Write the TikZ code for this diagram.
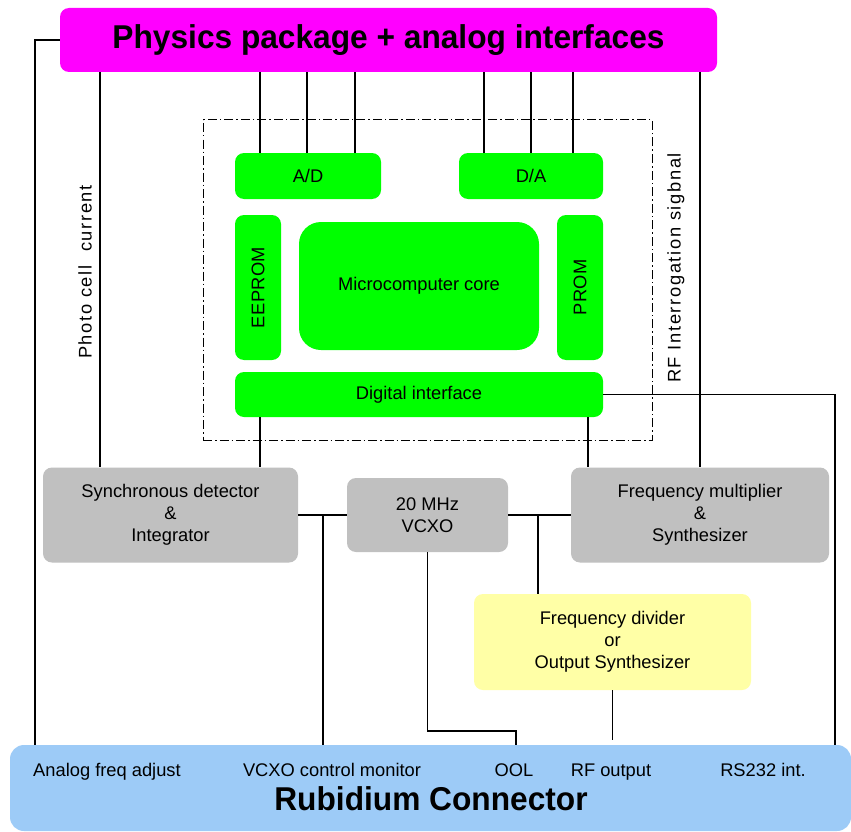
\documentclass[tikz,border=0pt]{standalone}
\usepackage{fontspec}
\setmainfont{Liberation Sans}
\usetikzlibrary{calc}
\definecolor{magbox}{HTML}{FF00FF}
\definecolor{grnbox}{HTML}{00FF00}
\definecolor{graybox}{HTML}{C0C0C0}
\definecolor{yelbox}{HTML}{FFFFA6}
\definecolor{bluebox}{HTML}{9DCBF7}
\newfontfamily\bigfont[FakeStretch=0.96]{Liberation Sans}
\begin{document}
\begin{tikzpicture}[x=1pt,y=-1pt,
  box/.style={rounded corners=9pt, inner sep=0pt, align=center,
    font=\fontsize{18.3}{22}\selectfont},
  magb/.style={box, fill=magbox, font=\bigfont\fontsize{33}{36}\selectfont\bfseries},
  grnb/.style={box, fill=grnbox},
  grayb/.style={box, fill=graybox},
  yelb/.style={box, fill=yelbox},
  wire/.style={draw=black, line width=1.1pt},
  lbl/.style={font=\fontsize{18.3}{20}\selectfont, inner sep=0pt, anchor=base},
  vlbl/.style={font=\fontsize{18.3}{20}\selectfont\addfontfeature{LetterSpace=9}, inner sep=0pt, rotate=90},
  cpubox/.style={draw=black, line width=1pt, dash pattern=on 9pt off 3pt on 1.5pt off 3pt}
]
\useasboundingbox (0,0) rectangle (851,832);
\fill[white] (0,0) rectangle (851,832);

% coordinates for vertical wires
\coordinate (xL) at (35,0);
\coordinate (xPC) at (100,0);
\coordinate (xa1) at (260,0);
\coordinate (xa2) at (307,0);
\coordinate (xa3) at (355,0);
\coordinate (xd1) at (484,0);
\coordinate (xd2) at (531,0);
\coordinate (xd3) at (573,0);
\coordinate (xRF) at (700,0);
\coordinate (xR) at (835,0);
\coordinate (xS) at (260,0);
\coordinate (xM) at (588,0);
\coordinate (xJ1) at (323,0);
\coordinate (xJ2) at (538,0);
\coordinate (ool) at (516,731);

% dash-dot CPU frame
\node[cpubox, minimum width=449pt, minimum height=320pt, inner sep=0pt] (cpu) at (427.5,280) {};

% nodes
\node[magb, minimum width=657pt, minimum height=64pt] (phys) at (388.5,40) {Physics package + analog interfaces};
\node[grnb, minimum width=146pt, minimum height=46pt] (ad) at (308,176) {A/D};
\node[grnb, minimum width=144pt, minimum height=46pt] (da) at (531,176) {D/A};
\node[grnb, minimum width=46pt, minimum height=145pt] (ee) at (258,287.5) {};
\node[inner sep=0pt, rotate=90, font=\fontsize{18.3}{20}\selectfont\addfontfeature{LetterSpace=2}] (eet) at (ee.center) {EEPROM};
\node[grnb, rounded corners=22pt, minimum width=240pt, minimum height=128pt] (core) at (419,286) {Microcomputer core};
\node[grnb, minimum width=46pt, minimum height=145pt] (prom) at (580,287.5) {};
\node[inner sep=0pt, rotate=90, font=\fontsize{18.3}{20}\selectfont\addfontfeature{LetterSpace=2}] (promt) at (prom.center) {PROM};
\node[grnb, minimum width=368pt, minimum height=45pt] (dig) at (419,394.5) {Digital interface};
\node[grayb, minimum width=255pt, minimum height=95pt] (sync) at (170.5,515) {Synchronous detector\\\&\\Integrator};
\node[grayb, minimum width=161pt, minimum height=74pt] (vcxo) at (427.5,515) {20 MHz\\VCXO};
\node[grayb, minimum width=258pt, minimum height=95pt] (fmult) at (700,515) {Frequency multiplier\\\&\\Synthesizer};
\node[yelb, minimum width=277pt, minimum height=96pt] (fdiv) at (612.5,642) {Frequency divider\\or\\Output Synthesizer};
\node[box, fill=bluebox, rounded corners=14pt, minimum width=841pt, minimum height=86pt] (conn) at (430.5,788) {};

% connector labels
\node[lbl] (l1) at (107,776) {Analog freq adjust};
\node[lbl] (l2) at (332,776) {VCXO control monitor};
\node[lbl] (l3) at (514,776) {OOL};
\node[lbl] (l4) at (611,776) {RF output};
\node[lbl] (l5) at (763,776) {RS232 int.};
\node[inner sep=0pt, font=\bigfont\fontsize{33}{36}\selectfont\bfseries] (rub) at (431,799) {Rubidium Connector};

% rotated wire labels
\node[vlbl] (pcl) at (85,272) {Photo cell\ \ current};
\node[vlbl] (rfl) at (676,268) {RF Interrogation sigbnal};

% wires
\draw[wire] (phys.west) -| (conn.north -| xL);
\draw[wire] (phys.south -| xPC) -- (sync.north -| xPC);
\draw[wire] (phys.south -| xa1) -- (ad.north -| xa1);
\draw[wire] (phys.south -| xa2) -- (ad.north -| xa2);
\draw[wire] (phys.south -| xa3) -- (ad.north -| xa3);
\draw[wire] (phys.south -| xd1) -- (da.north -| xd1);
\draw[wire] (phys.south -| xd2) -- (da.north -| xd2);
\draw[wire] (phys.south -| xd3) -- (da.north -| xd3);
\draw[wire] (phys.south -| xRF) -- (fmult.north -| xRF);
\draw[wire] (dig.east) -| (conn.north -| xR);
\draw[wire] (dig.south -| xS) -- (sync.north -| xS);
\draw[wire] (dig.south -| xM) -- (fmult.north -| xM);
\draw[wire] (sync.east) -- (vcxo.west);
\draw[wire] (sync.east -| xJ1) -- (conn.north -| xJ1);
\draw[wire] (vcxo.east) -- (fmult.west);
\draw[wire] (vcxo.east -| xJ2) -- (fdiv.north -| xJ2);
\draw[wire] (vcxo.south) |- (ool) -- (conn.north -| ool);
\draw[wire, shorten >=5pt] (fdiv.south) -- (conn.north -| fdiv.south);
\end{tikzpicture}
\end{document}
